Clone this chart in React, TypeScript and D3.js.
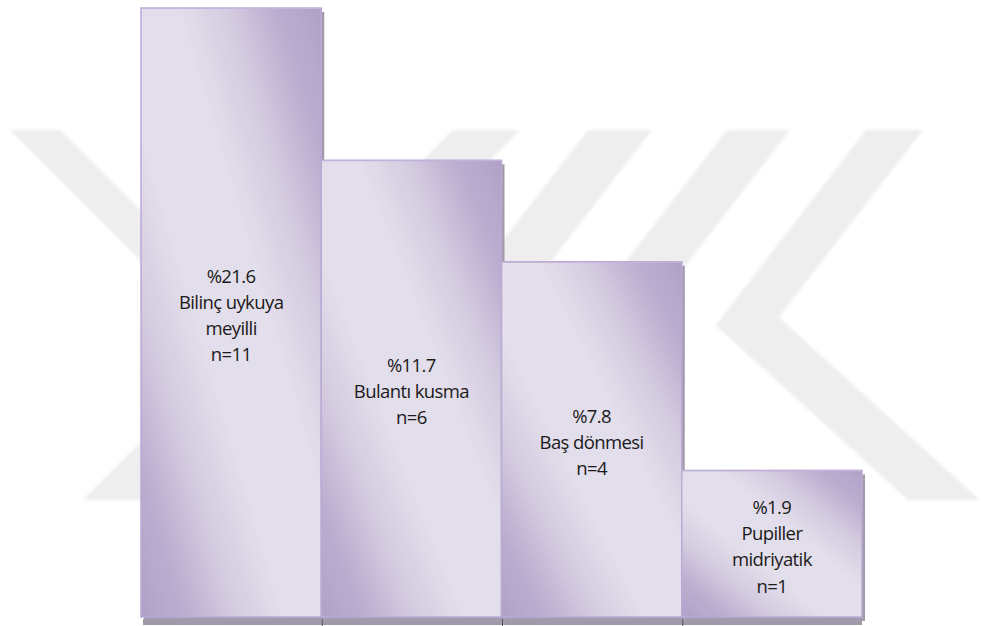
import React from "react";
import * as d3 from "d3";

// ---- data ----
const categories: string[] = [
  "Bilinç uykuya meyilli",
  "Bulantı kusma",
  "Baş dönmesi",
  "Pupiller midriyatik",
];
const categoryLines: string[][] = [
  ["Bilinç uykuya", "meyilli"],
  ["Bulantı kusma"],
  ["Baş dönmesi"],
  ["Pupiller", "midriyatik"],
];
const percents: number[] = [21.6, 11.7, 7.8, 1.9];
const counts: number[] = [11, 6, 4, 1];
// bar lengths as drawn in the picture (same units as the tallest bar's %)
const barHeights: number[] = [21.6, 16.2, 12.6, 5.2];

const W = 981;
const H = 626;
const left = 141;
const right = 862;
const top = 8;
const bottom = 617;

const x = d3.scaleBand<string>().domain(categories).range([left, right]).padding(0);
const y = d3.scaleLinear().domain([0, d3.max(barHeights) as number]).range([bottom, top]);

const fontFamily = "'Open Sans', 'Noto Sans', sans-serif";
const fontSize = 18.5;
const lineH = 26.3;

// faint background watermark (decoration)
const slopeX = 1.0;
const slopeK = 0.77;
const wmTop = 130;
const wmBot = 500;
function band(x0: number, x1: number, s: number): string {
  const dy = wmBot - wmTop;
  return `M${x0},${wmTop}L${x1},${wmTop}L${x1 + s * dy},${wmBot}L${x0 + s * dy},${wmBot}Z`;
}
function chevron(): string {
  const a0 = 866, a1 = 923, s = 1.1, b0 = 908, b1 = 980;
  const yo = (a0 + slopeK * wmTop - (b0 - s * wmBot)) / (slopeK + s);
  const xo = a0 - slopeK * (yo - wmTop);
  const yi = (a1 + slopeK * wmTop - (b1 - s * wmBot)) / (slopeK + s);
  const xi = a1 - slopeK * (yi - wmTop);
  return `M${a0},${wmTop}L${a1},${wmTop}L${xi},${yi}L${b1},${wmBot}L${b0},${wmBot}L${xo},${yo}Z`;
}
const watermark: string[] = [
  band(10, 60, slopeX),
  band(453, 520, -slopeX),
  band(588, 652, -slopeK),
  band(727, 790, -slopeK),
  chevron(),
];

export default function App() {
  const bw = x.bandwidth();
  const ticks = categories.slice(1).map((c) => x(c) as number);
  return (
    <svg
      width={W}
      height={H}
      viewBox={`0 0 ${W} ${H}`}
      style={{ position: "absolute", left: 0, top: 0, background: "#ffffff" }}
    >
      <defs>
        <linearGradient id="barGrad" x1="0" y1="1" x2="1" y2="0">
          <stop offset="0" stopColor="#b0a0c7" />
          <stop offset="0.13" stopColor="#bcaed0" />
          <stop offset="0.26" stopColor="#d4cbe0" />
          <stop offset="0.4" stopColor="#e3deeb" />
          <stop offset="0.6" stopColor="#e3deeb" />
          <stop offset="0.74" stopColor="#d4cbe0" />
          <stop offset="0.87" stopColor="#bcaed0" />
          <stop offset="1" stopColor="#b0a0c7" />
        </linearGradient>
        <filter id="soft" x="-5%" y="-5%" width="110%" height="110%">
          <feGaussianBlur stdDeviation="1.5" />
        </filter>
        <filter id="shadowBlur" x="-5%" y="-5%" width="110%" height="110%">
          <feGaussianBlur stdDeviation="0.7" />
        </filter>
      </defs>

      <g filter="url(#soft)">
        {watermark.map((d, i) => (
          <path key={i} d={d} fill="#eeeeee" />
        ))}
      </g>

      {/* axis band */}
      <rect x={left + 2} y={619} width={right - left - 2} height={6} fill="#9f99a9" />

      {categories.map((c, i) => {
        const x0 = x(c) as number;
        const y0 = y(barHeights[i]);
        const h = bottom - y0;
        const lines = [`%${percents[i]}`, ...categoryLines[i], `n=${counts[i]}`];
        const cy = y0 + h / 2 + 3;
        const startY = cy - ((lines.length - 1) * lineH) / 2;
        return (
          <g key={c}>
            <rect
              x={x0 + 3}
              y={y0 + 4}
              width={bw}
              height={h}
              fill="#a29bad"
              filter="url(#shadowBlur)"
            />
            <rect
              x={x0}
              y={y0}
              width={bw}
              height={h}
              fill="url(#barGrad)"
              stroke="#b9abd3"
              strokeWidth={1.5}
            />
            <line x1={x0 + 0.5} x2={x0 + bw - 0.5} y1={y0 + 0.5} y2={y0 + 0.5} stroke="#c2b6dc" strokeWidth={1} />
            {lines.map((t, j) => (
              <text
                key={j}
                x={x0 + bw / 2}
                y={startY + j * lineH + 6.5}
                textAnchor="middle"
                fontFamily={fontFamily}
                fontSize={fontSize}
                letterSpacing={-0.6}
                fill="#1a1a1a"
              >
                {t}
              </text>
            ))}
          </g>
        );
      })}

      {ticks.map((t, i) => (
        <line key={i} x1={t + 1} x2={t + 1} y1={619} y2={626} stroke="#5a5a5a" strokeWidth={1} />
      ))}
    </svg>
  );
}
